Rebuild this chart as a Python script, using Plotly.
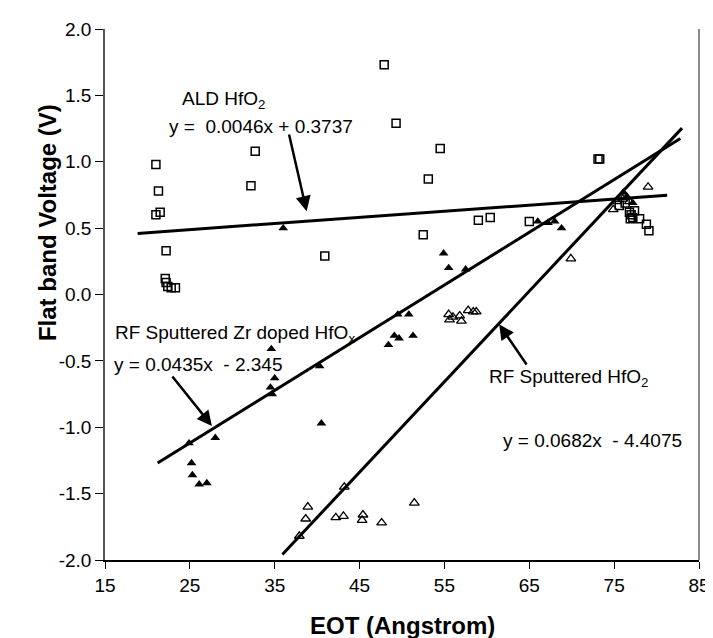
import plotly.graph_objects as go

# ---------------- data ----------------
ald_x = [21.0, 21.3, 21.5, 21.0, 22.2, 22.1, 22.2, 22.4, 22.8, 23.3, 32.7, 32.2, 40.9,
         47.9, 49.3, 53.1, 54.5, 52.5, 59.0, 60.4, 65.0, 73.1, 73.3, 75.6, 76.3, 76.8,
         77.0, 77.2, 76.9, 77.4, 78.0, 78.8, 79.1]
ald_y = [0.98, 0.78, 0.62, 0.60, 0.33, 0.12, 0.09, 0.06, 0.05, 0.05, 1.08, 0.82, 0.29,
         1.73, 1.29, 0.87, 1.10, 0.45, 0.56, 0.58, 0.55, 1.02, 1.02, 0.67, 0.69, 0.62,
         0.60, 0.58, 0.57, 0.63, 0.57, 0.53, 0.48]

zr_x = [24.9, 25.2, 25.3, 26.1, 27.0, 28.0, 34.6, 35.0, 34.5, 34.7, 36.0, 40.3, 40.5,
        48.4, 49.1, 49.65, 49.5, 50.8, 51.3, 54.9, 55.5, 57.5, 66.0, 67.2, 68.0, 68.8,
        76.1, 76.5, 77.2]
zr_y = [-1.12, -1.27, -1.36, -1.43, -1.42, -1.08, -0.41, -0.63, -0.70, -0.75, 0.50, -0.54, -0.97,
        -0.38, -0.31, -0.33, -0.15, -0.15, -0.31, 0.31, 0.20, 0.19, 0.55, 0.54, 0.55, 0.50,
        0.77, 0.74, 0.69]

rf_x = [37.9, 38.65, 38.9, 42.2, 43.1, 43.2, 45.4, 45.3, 47.6, 51.45, 55.5, 55.6, 56.0,
        56.8, 57.0, 57.8, 58.4, 58.75, 69.9, 74.9, 75.3, 76.0, 76.8, 79.0]
rf_y = [-1.82, -1.69, -1.60, -1.68, -1.67, -1.45, -1.66, -1.70, -1.72, -1.57, -0.15, -0.19, -0.17,
        -0.16, -0.20, -0.12, -0.13, -0.13, 0.27, 0.64, 0.70, 0.72, 0.70, 0.81]

# trend lines (x extent, and drawn y values)
ald_fit_x = [18.85, 81.25]
ald_slope, ald_icpt = 0.0046, 0.3737
zr_fit_x = [21.2, 82.8]
zr_fit_y = [-1.27, 1.175]
rf_fit_x = [35.9, 83.0]
rf_slope, rf_icpt = 0.0682, -4.4075

x_ticks = [15, 25, 35, 45, 55, 65, 75, 85]
y_ticks = [-2.0, -1.5, -1.0, -0.5, 0.0, 0.5, 1.0, 1.5, 2.0]

FONT = "Liberation Sans, Arial, sans-serif"

fig = go.Figure()

# fit lines
fig.add_trace(go.Scatter(x=ald_fit_x, y=[ald_slope * v + ald_icpt for v in ald_fit_x],
                         mode="lines", line=dict(color="black", width=3), hoverinfo="skip"))
fig.add_trace(go.Scatter(x=zr_fit_x, y=zr_fit_y,
                         mode="lines", line=dict(color="black", width=3), hoverinfo="skip"))
fig.add_trace(go.Scatter(x=rf_fit_x, y=[rf_slope * v + rf_icpt for v in rf_fit_x],
                         mode="lines", line=dict(color="black", width=3), hoverinfo="skip"))

# markers
fig.add_trace(go.Scatter(x=ald_x, y=ald_y, mode="markers", name="ALD HfO2",
                         marker=dict(symbol="square-open", size=8, color="black",
                                     line=dict(width=1.5, color="black"))))
fig.add_trace(go.Scatter(x=rf_x, y=rf_y, mode="markers", name="RF Sputtered HfO2",
                         marker=dict(symbol="triangle-up-open", size=8.5, color="black",
                                     line=dict(width=1.3, color="black"))))
fig.add_trace(go.Scatter(x=zr_x, y=zr_y, mode="markers", name="RF Sputtered Zr doped HfOx",
                         marker=dict(symbol="triangle-up", size=8.5, color="black",
                                     line=dict(width=0, color="black"))))

txt = dict(size=19, color="black", family=FONT)
annos = [
    dict(x=28.96, y=1.468, text="ALD HfO<sub>2</sub>"),
    dict(x=33.4, y=1.268, text="y =  0.0046x + 0.3737"),
    dict(x=16.0, y=-0.30, text="RF Sputtered Zr doped HfO<sub>x</sub>", xanchor="left"),
    dict(x=15.8, y=-0.53, text="y = 0.0435x  - 2.345", xanchor="left"),
    dict(x=69.6, y=-0.63, text="RF Sputtered HfO<sub>2</sub>"),
    dict(x=72.5, y=-1.10, text="y = 0.0682x  - 4.4075"),
]
for a in annos:
    fig.add_annotation(xref="x", yref="y", showarrow=False, font=txt,
                       xanchor=a.get("xanchor", "center"), yanchor="middle",
                       x=a["x"], y=a["y"], text=a["text"])

# arrows (tail -> head)
arrows = [
    ((36.65, 1.217), (38.76, 0.628)),
    ((22.8, -0.606), (27.6, -0.99)),
    ((64.8, -0.538), (61.45, -0.225)),
]
for (tx, ty), (hx, hy) in arrows:
    fig.add_annotation(xref="x", yref="y", axref="x", ayref="y",
                       x=hx, y=hy, ax=tx, ay=ty, text="", showarrow=True,
                       arrowhead=2, arrowsize=1.2, arrowwidth=2.5, arrowcolor="black")

# axis titles
fig.add_annotation(xref="paper", yref="paper", x=(38 - 97) / 605, y=(552 - 215) / 531,
                   text="<b>Flat band Voltage (V)</b>", textangle=-90, showarrow=False,
                   font=dict(size=24, color="black", family=FONT),
                   xanchor="center", yanchor="middle")
fig.add_annotation(xref="paper", yref="paper", x=0.5, y=(552 - 617) / 531,
                   text="<b>EOT (Angstrom)</b>", showarrow=False,
                   font=dict(size=24, color="black", family=FONT),
                   xanchor="center", yanchor="middle")

# right border of plot area
fig.add_shape(type="line", xref="paper", yref="paper", x0=1, x1=1, y0=0, y1=1,
              line=dict(color="#8c8c8c", width=2))

fig.update_layout(
    width=713, height=638,
    margin=dict(l=97, r=11, t=21, b=86),
    paper_bgcolor="white", plot_bgcolor="white",
    showlegend=False,
    font=dict(family=FONT, color="black"),
)
fig.update_xaxes(range=[15, 85], tickvals=x_ticks, ticktext=[str(v) for v in x_ticks],
                 ticks="outside", ticklen=7, tickcolor="black", tickwidth=1,
                 showline=True, linecolor="black", linewidth=1.5,
                 showgrid=False, zeroline=False, tickfont=dict(size=19, family=FONT))
fig.update_yaxes(range=[-2, 2], tickvals=y_ticks, ticktext=[f"{v:.1f}" for v in y_ticks],
                 ticks="outside", ticklen=8, tickcolor="black", tickwidth=1,
                 showline=True, linecolor="#555555", linewidth=1.5,
                 showgrid=False, zeroline=False, tickfont=dict(size=19, family=FONT))

fig.write_html("out.html")
